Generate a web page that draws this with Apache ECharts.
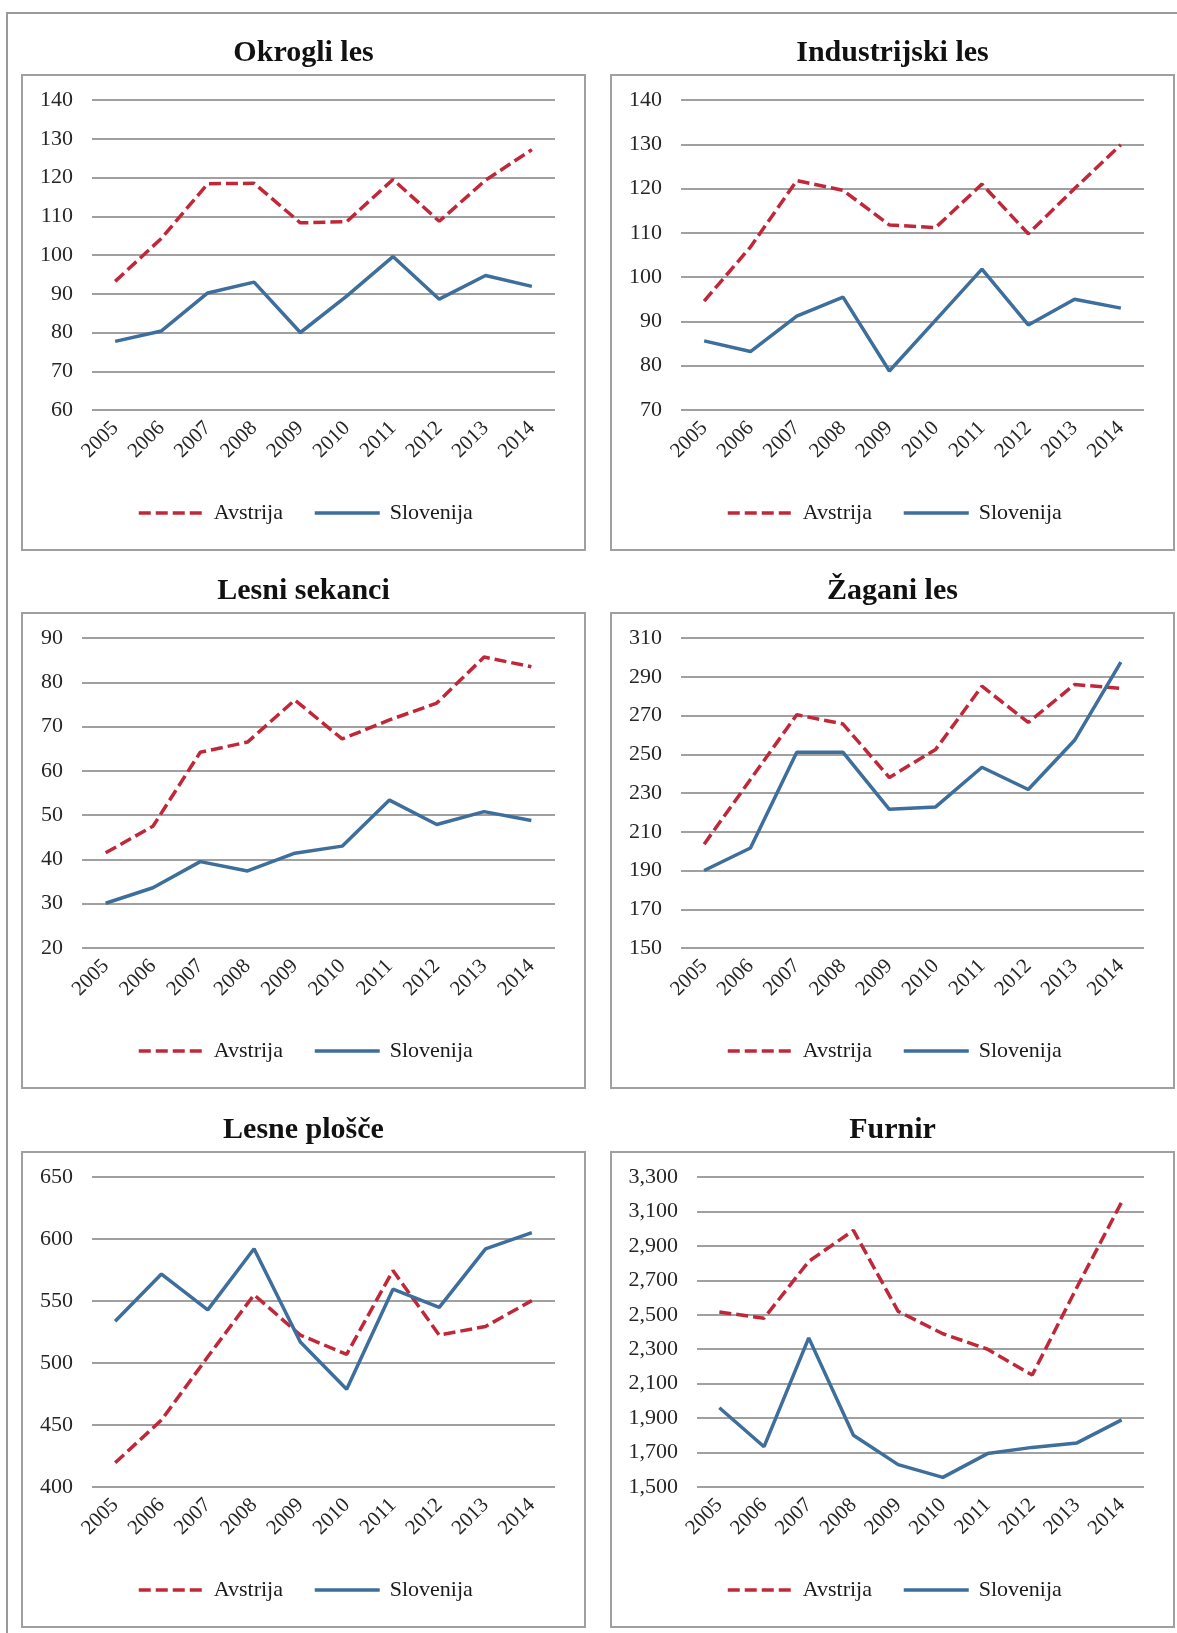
<!DOCTYPE html>
<html lang="sl">

<head>
    <meta charset="UTF-8" />
    <title>Avstrija / Slovenija</title>
    <script src="https://cdn.jsdelivr.net/npm/echarts@6/dist/echarts.min.js"></script>
    <style>
        html, body { margin: 0; padding: 0; background: #fff; }
    </style>
</head>

<body>
    <div id="main" style="width: 1177px; height: 1633px"></div>
    <script type="text/javascript">
        // categories
        const years = ["2005", "2006", "2007", "2008", "2009", "2010", "2011", "2012", "2013", "2014"];
        const seriesNames = ["Avstrija", "Slovenija"];

        // panel titles
        const titles = ["Okrogli les", "Industrijski les", "Lesni sekanci", "Žagani les", "Lesne plošče", "Furnir"];

        // values
        const okrogliAvstrija = [93.2, 104.3, 118.4, 118.5, 108.3, 108.6, 119.5, 108.7, 119.3, 127.2];
        const okrogliSlovenija = [77.7, 80.4, 90.2, 93.0, 80.0, 89.4, 99.6, 88.6, 94.7, 91.9];
        const industrijskiAvstrija = [94.6, 106.8, 121.8, 119.6, 111.8, 111.2, 121.0, 109.8, 120.0, 129.9];
        const industrijskiSlovenija = [85.6, 83.2, 91.2, 95.5, 78.8, 90.3, 101.8, 89.2, 95.0, 93.0];
        const sekanciAvstrija = [41.5, 47.5, 64.2, 66.5, 76.0, 67.2, 71.5, 75.3, 85.7, 83.5];
        const sekanciSlovenija = [30.1, 33.6, 39.5, 37.4, 41.4, 43.0, 53.4, 47.9, 50.8, 48.8];
        const zaganiAvstrija = [203.6, 237, 270.4, 265.6, 238, 252.5, 285.1, 266.4, 286, 284];
        const zaganiSlovenija = [190, 201.6, 251, 251, 221.6, 222.8, 243.3, 231.8, 257.2, 297.6];
        const ploscheAvstrija = [419.5, 454, 505, 555, 522.5, 507, 574.6, 522.5, 529.5, 550.3];
        const ploscheSlovenija = [533.6, 571.7, 542.8, 592.1, 516.9, 478.8, 559.5, 544.8, 592.1, 605.2];
        const furnirAvstrija = [2516, 2480, 2810, 2990, 2520, 2390, 2300, 2150, 2660, 3154];
        const furnirSlovenija = [1960, 1734, 2366, 1800, 1630, 1556, 1694, 1730, 1756, 1890];

        // y axis ranges (min, max, step)
        const yMin = [60, 70, 20, 150, 400, 1500];
        const yMax = [140, 140, 90, 310, 650, 3300];
        const yStep = [10, 10, 10, 20, 50, 200];

        const avstrijaData = [okrogliAvstrija, industrijskiAvstrija, sekanciAvstrija, zaganiAvstrija, ploscheAvstrija, furnirAvstrija];
        const slovenijaData = [okrogliSlovenija, industrijskiSlovenija, sekanciSlovenija, zaganiSlovenija, ploscheSlovenija, furnirSlovenija];

        // layout of the six panels (box left/top, plot area)
        const boxLeft = [22, 611];
        const boxTop = [75, 613, 1152];
        const boxW = 563, boxH = 475;
        const plotLeft = [92, 681, 82, 681, 92, 697];
        const plotRight = [555, 1144];

        const font = "'Liberation Serif', 'Times New Roman', serif";
        const red = "#C0283A";
        const blue = "#3D6E9C";

        let options = {
            backgroundColor: "#fff",
            animation: false,
            title: [], legend: [], grid: [], xAxis: [], yAxis: [], series: [],
            graphic: [{
                type: "rect",
                shape: { x: 7, y: 13, width: 1200, height: 1700 },
                style: { fill: "none", stroke: "#9a9a9a", lineWidth: 2 }
            }]
        };

        for (let i = 0; i < 6; i++) {
            let col = i % 2, row = Math.floor(i / 2);
            let bx = boxLeft[col], by = boxTop[row];
            options.graphic.push({
                type: "rect",
                shape: { x: bx, y: by, width: boxW, height: boxH },
                style: { fill: "none", stroke: "#a0a0a0", lineWidth: 2 }
            });
            options.title.push({
                text: titles[i],
                left: bx + boxW / 2,
                top: by - 37,
                textAlign: "center",
                padding: 0,
                textStyle: { fontFamily: font, fontSize: 30, fontWeight: "bold", color: "#111" }
            });
            options.grid.push({
                left: plotLeft[i],
                top: by + 25,
                width: plotRight[col] - plotLeft[i],
                height: 310
            });
            options.xAxis.push({
                type: "category",
                gridIndex: i,
                data: years,
                boundaryGap: true,
                axisLine: { show: false },
                axisTick: { show: false },
                axisLabel: { rotate: 45, margin: 15, fontFamily: font, fontSize: 21, color: "#262626" }
            });
            options.yAxis.push({
                type: "value",
                gridIndex: i,
                min: yMin[i],
                max: yMax[i],
                interval: yStep[i],
                axisLine: { show: false },
                axisTick: { show: false },
                axisLabel: {
                    margin: 19, fontFamily: font, fontSize: 22, color: "#262626",
                    formatter: (v) => v.toLocaleString("en-US")
                },
                splitLine: { lineStyle: { color: "#808080", width: 1.5 } }
            });
            options.legend.push({
                left: bx + 115,
                top: by + 427,
                padding: 0,
                itemWidth: 65,
                itemHeight: 14,
                itemGap: 30,
                itemStyle: { opacity: 0 },
                lineStyle: { width: 3.5 },
                textStyle: { fontFamily: font, fontSize: 22, color: "#1a1a1a", padding: [0, 0, 0, 5] },
                data: seriesNames.slice()
            });
            options.series.push({
                name: seriesNames[0], type: "line", xAxisIndex: i, yAxisIndex: i,
                data: avstrijaData[i], symbol: "none",
                lineStyle: { color: red, width: 3.5, type: [12, 5] },
                itemStyle: { color: red }
            });
            options.series.push({
                name: seriesNames[1], type: "line", xAxisIndex: i, yAxisIndex: i,
                data: slovenijaData[i], symbol: "none",
                lineStyle: { color: blue, width: 3.5 },
                itemStyle: { color: blue }
            });
        }

        let myChart = echarts.init(document.getElementById("main"));
        myChart.setOption(options);
    </script>
</body>

</html>
